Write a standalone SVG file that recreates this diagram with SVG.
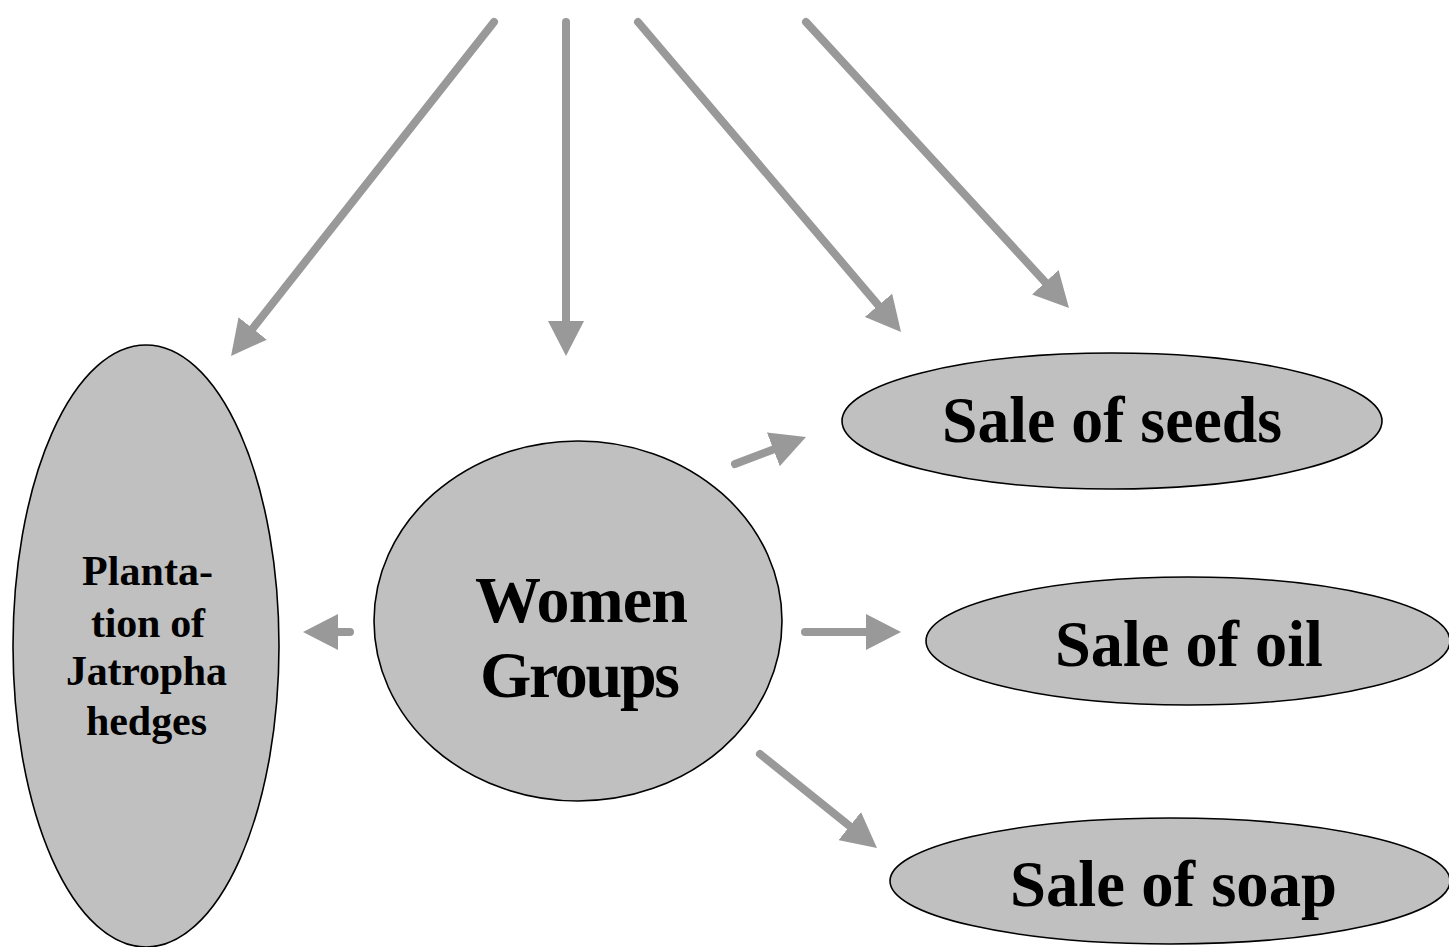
<svg xmlns="http://www.w3.org/2000/svg" width="1449" height="947" viewBox="0 0 1449 947">
<style>
.node{fill:#c0c0c0;stroke:#000;stroke-width:1.6}
.lbl{font-family:"Liberation Serif","Times New Roman",serif;font-weight:bold;fill:#000;text-anchor:middle}
.big{font-size:66px}
.small{font-size:42px}
.conn line{stroke:#999;stroke-width:8;stroke-linecap:round;marker-end:url(#ah)}
</style>
<defs>
<marker id="ah" markerUnits="userSpaceOnUse" viewBox="0 -18 35 36" markerWidth="35" markerHeight="36" refX="0" refY="0" orient="auto">
<path d="M0,-18 L35,0 L0,18 z" fill="#999"/>
</marker>
</defs>
<rect width="1449" height="947" fill="#fff"/>
<g id="plantation">
<ellipse class="node" cx="146" cy="646" rx="133" ry="301"/>
<text class="lbl small" x="147.5" y="585" textLength="131" lengthAdjust="spacing">Planta-</text>
<text class="lbl small" x="148" y="637" textLength="114" lengthAdjust="spacing">tion of</text>
<text class="lbl small" x="146.5" y="685" textLength="161" lengthAdjust="spacing">Jatropha</text>
<text class="lbl small" x="146.5" y="735" textLength="121" lengthAdjust="spacing">hedges</text>
</g>
<g id="women">
<ellipse class="node" cx="578" cy="621" rx="204" ry="180"/>
<text class="lbl big" x="581.5" y="622" textLength="213" lengthAdjust="spacing">Women</text>
<text class="lbl big" x="580" y="697" textLength="200" lengthAdjust="spacing">Groups</text>
</g>
<g id="seeds">
<ellipse class="node" cx="1112" cy="421" rx="270" ry="68"/>
<text class="lbl big" x="1112" y="442" textLength="340" lengthAdjust="spacingAndGlyphs">Sale of seeds</text>
</g>
<g id="oil">
<ellipse class="node" cx="1188" cy="641" rx="262" ry="64"/>
<text class="lbl big" x="1189" y="666" textLength="268" lengthAdjust="spacingAndGlyphs">Sale of oil</text>
</g>
<g id="soap">
<ellipse class="node" cx="1170" cy="881" rx="280" ry="63"/>
<text class="lbl big" x="1173.5" y="906" textLength="327" lengthAdjust="spacingAndGlyphs">Sale of soap</text>
</g>
<g id="connectors" class="conn">
<line x1="494" y1="22" x2="252.7" y2="328.5"/>
<line x1="566" y1="22" x2="566" y2="321"/>
<line x1="638" y1="22" x2="878.4" y2="305.3"/>
<line x1="806" y1="22" x2="1045.3" y2="282.2"/>
<line x1="735" y1="464" x2="773.3" y2="449.4"/>
<line x1="350" y1="632" x2="338" y2="632"/>
<line x1="805" y1="632" x2="866" y2="632"/>
<line x1="760" y1="754" x2="849.7" y2="826.1"/>
</g>
</svg>
